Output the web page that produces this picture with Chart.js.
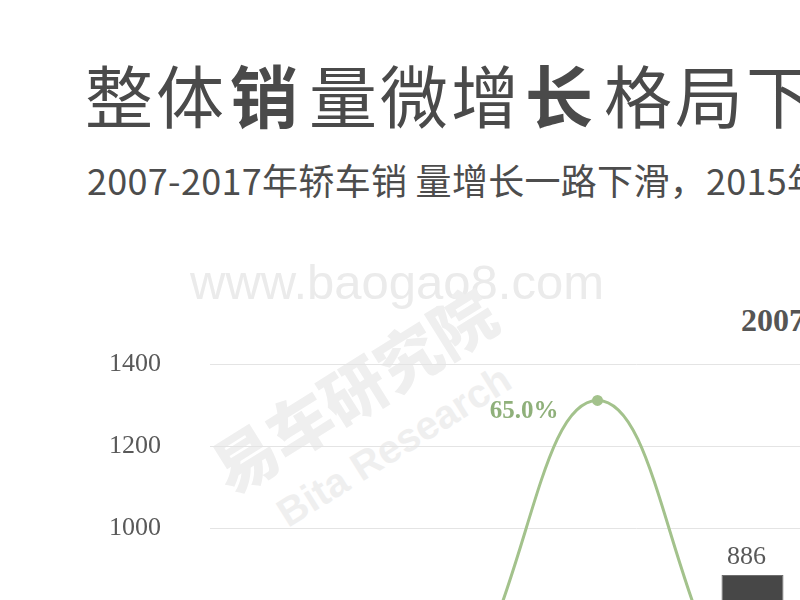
<!DOCTYPE html>
<html>
<head>
<meta charset="utf-8">
<script src="https://cdn.jsdelivr.net/npm/chart.js@4.4.1/dist/chart.umd.min.js"></script>
<style>
    html, body { margin: 0; padding: 0; width: 800px; height: 600px; overflow: hidden; background: #fff; }
    .title {
        position: absolute; left: 85px; top: 46px; white-space: nowrap;
        font-family: "Noto Sans CJK SC", sans-serif; font-size: 68px; line-height: 96px;
        color: #4a4a4a; letter-spacing: 3px; font-weight: 400;
    }
    .title b { font-weight: 700; margin-left: 3px; margin-right: 8px; }
    .subtitle {
        position: absolute; left: 87px; top: 154px; white-space: nowrap;
        font-family: "Noto Sans CJK SC", sans-serif; font-size: 36px; line-height: 50px;
        color: #4d4d4d; letter-spacing: 0.3px;
    }
    .chart-title {
        position: absolute; left: 741px; top: 300px; white-space: nowrap;
        font-family: "Liberation Serif", serif; font-size: 32px; line-height: 40px;
        font-weight: bold; color: #555;
    }
    .wm { position: absolute; white-space: nowrap; color: #ebebeb; }
    .wm-url { left: 190px; top: 258px; font-family: "Liberation Sans", sans-serif; font-size: 49px; line-height: 49px; }
    .wm-cn, .wm-en { transform: translate(-50%, -50%) rotate(-32deg); }
    .wm-cn { left: 352px; top: 388px; font-family: "Noto Sans CJK SC", sans-serif; font-size: 64px; font-weight: 900; color: #efefef; }
    .wm-en { left: 394px; top: 446px; font-family: "Liberation Sans", sans-serif; font-size: 40px; font-weight: bold; color: #efefef; }
    .chart-box { position: absolute; left: 100px; top: 300px; width: 1822px; height: 702px; }
</style>
</head>
<body>
<div class="wm wm-url">www.baogao8.com</div>
<div class="wm wm-cn">易车研究院</div>
<div class="wm wm-en">Bita Research</div>

<div class="title">整体<b>销</b>量微增<b>长</b>格局下</div>
<div class="subtitle">2007-2017年轿车销 量增长一路下滑，2015年</div>
<div class="chart-title">2007-2017年轿车销量及增速</div>

<div class="chart-box"><canvas id="salesChart"></canvas></div>

<script>
const years = ["2007", "2008", "2009", "2010", "2011", "2012", "2013", "2014", "2015", "2016", "2017"];
const salesValues = [373, 447, 738, 886, 970, 1033, 1147, 1181, 1118, 1156, 1127];
const growthValues = [10.0, 20.0, 65.0, 20.0, 9.5, 6.5, 11.0, 3.0, -5.3, 3.4, -2.5];
const salesMax = 1400;
const salesStep = 200;
const growthMin = -10;
const growthMax = 70;

const serif = "'Liberation Serif', 'Times New Roman', serif";

const valueLabels = {
    id: "valueLabels",
    afterDatasetsDraw(chart) {
        const ctx = chart.ctx;
        ctx.save();

        ctx.font = "26px " + serif;
        ctx.fillStyle = "#595959";
        ctx.textAlign = "center";
        ctx.textBaseline = "alphabetic";
        chart.getDatasetMeta(1).data.forEach((bar, i) => {
            ctx.fillText(salesValues[i], bar.x - 6, bar.y - 11);
        });

        ctx.font = "bold 25px " + serif;
        ctx.fillStyle = "#8fb07a";
        ctx.textAlign = "right";
        chart.getDatasetMeta(0).data.forEach((pt, i) => {
            ctx.fillText(growthValues[i].toFixed(1) + "%", pt.x - 39, pt.y + 18);
        });

        ctx.restore();
    }
};

new Chart(document.getElementById("salesChart"), {
    data: {
        labels: years,
        datasets: [{
            type: "line",
            label: "增速",
            data: growthValues,
            yAxisID: "y1",
            borderColor: "#a3c28c",
            backgroundColor: "#a3c28c",
            borderWidth: 3,
            tension: 0.4,
            pointRadius: 4,
            pointHoverRadius: 4,
            order: 0
        }, {
            type: "bar",
            label: "轿车销量（万辆）",
            data: salesValues,
            yAxisID: "y",
            backgroundColor: "#474747",
            borderColor: "#6e6e6e",
            borderWidth: 1,
            categoryPercentage: 0.8,
            barPercentage: 0.5,
            order: 1
        }]
    },
    options: {
        responsive: true,
        maintainAspectRatio: false,
        animation: false,
        layout: { padding: { top: 60, left: 0, right: 0, bottom: 0 } },
        plugins: {
            legend: { display: false },
            tooltip: { enabled: false }
        },
        scales: {
            x: {
                grid: { display: false },
                border: { display: false },
                ticks: { color: "#595959", font: { family: serif, size: 26 } },
                afterFit: scale => { scale.height = 50; }
            },
            y: {
                min: 0,
                max: salesMax,
                ticks: {
                    stepSize: salesStep,
                    color: "#595959",
                    padding: 49,
                    font: { family: serif, size: 26 },
                    callback: v => String(v)
                },
                grid: { color: "#e4e4e4", drawTicks: false },
                border: { display: false },
                afterFit: scale => { scale.width = 110; }
            },
            y1: {
                display: false,
                position: "right",
                min: growthMin,
                max: growthMax
            }
        }
    },
    plugins: [valueLabels]
});
</script>
</body>
</html>
